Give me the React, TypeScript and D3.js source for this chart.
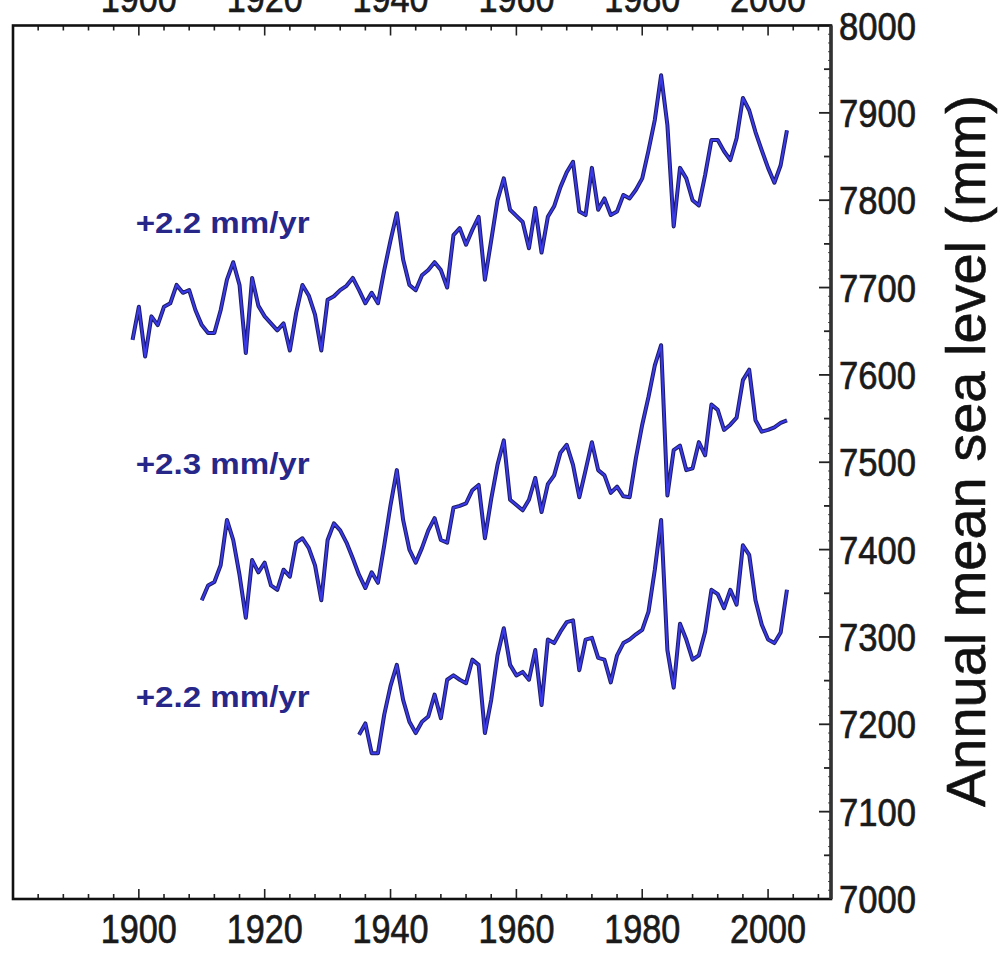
import React from "react";
import * as d3 from "d3";

// ---- data ----
const topStartYear = 1899;
const topValues = [
  7640, 7678, 7621, 7667, 7657, 7678, 7682, 7703, 7694, 7697,
  7674, 7657, 7648, 7648, 7674, 7709, 7729, 7703, 7625, 7711,
  7679, 7667, 7659, 7651, 7659, 7628, 7671, 7703, 7691, 7669,
  7628, 7686, 7690, 7697, 7702, 7711, 7697, 7682, 7694, 7682,
  7720, 7754, 7785, 7732, 7703, 7697, 7714, 7720, 7729, 7720,
  7700, 7760, 7768, 7749, 7766, 7781, 7709, 7754, 7800, 7825,
  7789, 7782, 7775, 7745, 7791, 7740, 7781, 7793, 7815, 7832,
  7844, 7787, 7783, 7837, 7789, 7802, 7783, 7787, 7806, 7802,
  7812, 7825, 7857, 7892, 7943, 7886, 7770, 7837, 7825, 7800,
  7794, 7829, 7869, 7869, 7856, 7846, 7871, 7917, 7903, 7878,
  7857, 7837, 7820, 7840, 7880,
];

const midStartYear = 1910;
const midValues = [
  7342, 7359, 7363, 7382, 7434, 7411, 7371, 7322, 7388, 7374,
  7385, 7359, 7354, 7377, 7369, 7408, 7413, 7402, 7382, 7342,
  7411, 7430, 7422, 7408, 7390, 7371, 7356, 7374, 7362, 7405,
  7451, 7491, 7434, 7400, 7385, 7402, 7422, 7436, 7411, 7408,
  7448, 7450, 7453, 7468, 7474, 7413, 7458, 7497, 7525, 7457,
  7451, 7445, 7457, 7482, 7443, 7475, 7485, 7511, 7520, 7497,
  7460, 7491, 7523, 7491, 7485, 7465, 7472, 7461, 7460, 7505,
  7543, 7575, 7611, 7634, 7462, 7514, 7519, 7491, 7493, 7523,
  7508, 7566, 7560, 7537, 7543, 7551, 7594, 7606, 7548, 7535,
  7537, 7540, 7545, 7548,
];

const lowStartYear = 1935;
const lowValues = [
  7188, 7201, 7167, 7167, 7211, 7244, 7268, 7228, 7203, 7190,
  7203, 7209, 7234, 7207, 7251, 7256, 7251, 7247, 7274, 7268,
  7190, 7228, 7279, 7310, 7268, 7256, 7260, 7251, 7285, 7222,
  7297, 7293, 7306, 7317, 7319, 7262, 7297, 7299, 7276, 7274,
  7248, 7279, 7293, 7297, 7303, 7308, 7329, 7377, 7434, 7285,
  7242, 7315, 7297, 7274, 7279, 7306, 7354, 7349, 7333, 7354,
  7337, 7405, 7394, 7342, 7314, 7297, 7293, 7305, 7354,
];

const trendLabels = ["+2.2 mm/yr", "+2.3 mm/yr", "+2.2 mm/yr"];
const trendLabelValues = [7762, 7486, 7220];
const trendLabelYear = 1899.5;

const xTickLabels = [1900, 1920, 1940, 1960, 1980, 2000];
const yTickLabels = [7000, 7100, 7200, 7300, 7400, 7500, 7600, 7700, 7800, 7900, 8000];
const yTitle = "Annual mean sea level (mm)";

// ---- layout ----
const W = 998;
const H = 953;
const left = 13;
const right = 831;
const top = 25.5;
const bottom = 899;

const x = d3.scaleLinear().domain([1880, 2010]).range([left, right]);
const y = d3.scaleLinear().domain([7000, 8000]).range([bottom, top]);

const mkSeries = (start: number, vals: number[]) =>
  vals.map((v, i) => ({ year: start + i, v }));

const series = [
  mkSeries(topStartYear, topValues),
  mkSeries(midStartYear, midValues),
  mkSeries(lowStartYear, lowValues),
];

const line = d3
  .line<{ year: number; v: number }>()
  .x((d) => x(d.year))
  .y((d) => y(d.v));

const FONT = "'Liberation Sans', Arial, Helvetica, sans-serif";

export default function App() {
  const xMinor = d3.range(1880, 2011, 4);
  const yMinor10 = d3.range(7000, 8001, 10);
  const yMinor50 = d3.range(7050, 8000, 100);

  const labelStyle = {
    fontFamily: FONT,
    fill: "#1a1a1a",
    stroke: "#1a1a1a",
    strokeWidth: 0.7,
  } as const;

  return (
    <svg
      width={W}
      height={H}
      style={{ position: "absolute", left: 0, top: 0, background: "#fff" }}
    >
      <rect x={0} y={0} width={W} height={H} fill="#fff" />

      {/* x ticks bottom & top */}
      {xMinor.map((t) => (
        <g key={"xt" + t}>
          <line x1={x(t)} x2={x(t)} y1={bottom} y2={bottom - (t % 20 === 0 ? 10 : 5)} stroke="#222" strokeWidth={1.6} />
          <line x1={x(t)} x2={x(t)} y1={top} y2={top + (t % 20 === 0 ? 10 : 5)} stroke="#222" strokeWidth={1.6} />
        </g>
      ))}

      {/* y ticks on right */}
      {yMinor10.map((t) => (
        <line key={"y10" + t} x1={right} x2={right - 3} y1={y(t)} y2={y(t)} stroke="#555" strokeWidth={1} />
      ))}
      {yMinor50.map((t) => (
        <line key={"y50" + t} x1={right} x2={right - 7} y1={y(t)} y2={y(t)} stroke="#222" strokeWidth={1.8} />
      ))}
      {yTickLabels.map((t) => (
        <line key={"y100" + t} x1={right} x2={right - 12} y1={y(t)} y2={y(t)} stroke="#222" strokeWidth={1.8} />
      ))}

      {/* frame */}
      <rect
        x={left}
        y={top}
        width={right - left}
        height={bottom - top}
        fill="none"
        stroke="#111"
        strokeWidth={2.6}
      />
      <line x1={right} x2={right} y1={top} y2={bottom} stroke="#333" strokeWidth={3.5} />

      {/* x labels */}
      {xTickLabels.map((t) => (
        <g key={"xl" + t}>
          <text
            x={x(t)}
            y={943}
            textAnchor="middle"
            fontSize={40}
            textLength={76}
            lengthAdjust="spacingAndGlyphs"
            {...labelStyle}
          >
            {t}
          </text>
          <text
            x={x(t)}
            y={12}
            textAnchor="middle"
            fontSize={40}
            textLength={76}
            lengthAdjust="spacingAndGlyphs"
            {...labelStyle}
          >
            {t}
          </text>
        </g>
      ))}

      {/* y labels */}
      {yTickLabels.map((t) => (
        <text
          key={"yl" + t}
          x={839}
          y={y(t) + 14}
          fontSize={39}
          textLength={77}
          lengthAdjust="spacingAndGlyphs"
          {...labelStyle}
        >
          {t}
        </text>
      ))}

      {/* y title */}
      <text
        transform={`translate(985, 451) rotate(-90)`}
        textAnchor="middle"
        fontFamily={FONT}
        fontSize={55}
        fill="#111"
        stroke="#111"
        strokeWidth={0.6}
        textLength={712}
        lengthAdjust="spacingAndGlyphs"
      >
        {yTitle}
      </text>

      {/* series */}
      {series.map((s, i) => (
        <g key={"s" + i}>
          <path d={line(s) || ""} fill="none" stroke="#1c1c66" strokeWidth={4} strokeLinejoin="round" />
          <path d={line(s) || ""} fill="none" stroke="#3a3ae8" strokeWidth={2} strokeLinejoin="round" />
        </g>
      ))}

      {/* trend labels */}
      {trendLabels.map((t, i) => (
        <text
          key={"tl" + i}
          x={x(trendLabelYear)}
          y={y(trendLabelValues[i])}
          fontFamily={FONT}
          fontSize={29}
          fontWeight="bold"
          fill="#27278a"
          textLength={174}
          lengthAdjust="spacingAndGlyphs"
        >
          {t}
        </text>
      ))}
    </svg>
  );
}
